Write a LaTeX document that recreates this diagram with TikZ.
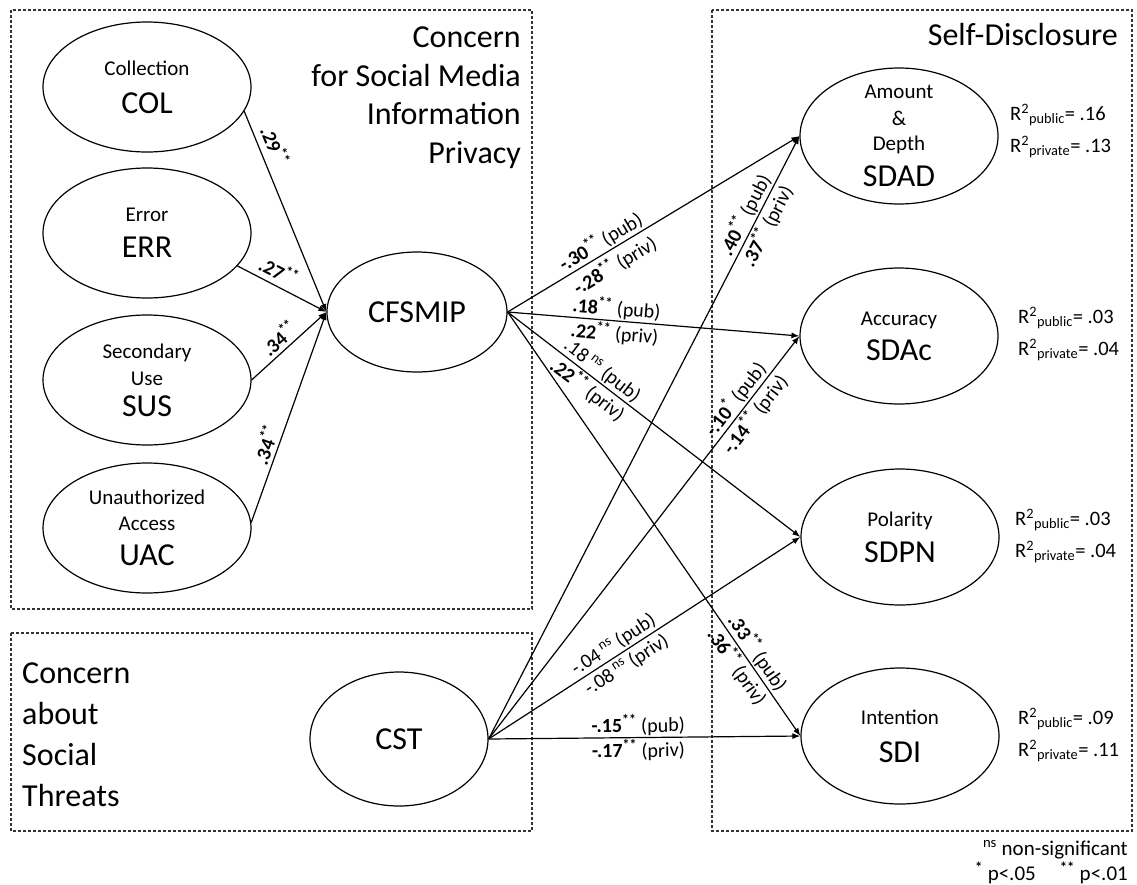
\documentclass[tikz,border=0pt]{standalone}
\usepackage{fontspec}
\setmainfont{Carlito}
\usetikzlibrary{shapes.geometric,arrows.meta}
\newcommand\fTitle{\fontsize{32}{38.5}\selectfont}
\newcommand\fTitleB{\fontsize{32}{40.7}\selectfont}
\newcommand\fBig{\fontsize{32}{36}\selectfont}
\newcommand\fSm{\fontsize{21}{25}\selectfont}
\newcommand\fLab{\fontsize{20}{24}\selectfont}
\newcommand\fR{\fontsize{20.5}{32}\selectfont}
\newcommand\sig[2]{\textbf{#1}\textsuperscript{\textbf{#2}}}
\newcommand\nsig[1]{#1\,\textsuperscript{ns}}
\tikzset{
  dashbox/.style={draw=black!80, line width=1.1pt, dash pattern=on 3pt off 2pt},
  ell/.style={draw, ellipse, line width=1.2pt, inner sep=0pt},
  lefte/.style={ell, minimum width=208pt, minimum height=130pt},
  righte/.style={ell, minimum width=198pt, minimum height=136pt},
  conn/.style={line width=1.2pt, -{Latex[length=8pt,width=6pt]}},
  lab/.style={font=\fLab, inner sep=1.5pt, sloped},
  intext/.style={align=center, font=\fSm, inner sep=0pt},
  rtxt/.style={align=left, font=\fR, inner sep=0pt, anchor=west},
  legend/.style={font=\fSm, inner sep=0pt, anchor=base east},
}
\begin{document}
\begin{tikzpicture}[x=1pt,y=-1pt]
\useasboundingbox (0,0) rectangle (1137,884);
% boxes
\draw[dashbox] (11,10) rectangle (532,609);
\draw[dashbox] (11,633) rectangle (532,831);
\draw[dashbox] (712,10) rectangle (1132,831);
% titles
\node[font=\fTitle, align=right, anchor=north east, inner sep=0pt] (T1) at (521,27)
  {Concern\\for Social Media\\Information\\Privacy};
\node[font=\fTitleB, align=left, anchor=north west, inner sep=0pt] (T2) at (22,663)
  {Concern\\about\\Social\\Threats};
\node[font=\fTitle, anchor=base east, inner sep=0pt] (T3) at (1118,45.5) {Self-Disclosure};
% left ellipses
\node[lefte, label={[intext]center:{Collection\\[13pt]{\fBig COL}}}] (COL) at (147,87) {};
\node[lefte, label={[intext]center:{Error\\[11pt]{\fBig ERR}}}] (ERR) at (147,233) {};
\node[lefte, label={[intext]center:{Secondary\\[2pt]Use\\[6pt]{\fBig SUS}}}] (SUS) at (147,380) {};
\node[lefte, label={[intext]center:{Unauthorized\\[1pt]Access\\[10pt]{\fBig UAC}}}] (UAC) at (147,528) {};
% middle ellipses
\node[ell, minimum width=180pt, minimum height=120pt, font=\fBig] (CFSMIP) at (417,312) {CFSMIP};
\node[ell, minimum width=178pt, minimum height=134pt, font=\fBig] (CST) at (399,739) {CST};
% right ellipses
\node[righte, label={[intext]center:{Amount\\[2pt]\&\\[0pt]Depth\\[11pt]{\fBig SDAD}}}] (SDAD) at (899,136) {};
\node[righte, label={[intext]center:{Accuracy\\[10pt]{\fBig SDAc}}}] (SDAc) at (899,336) {};
\node[righte, label={[intext]center:{Polarity\\[11pt]{\fBig SDPN}}}] (SDPN) at (900,537) {};
\node[righte, label={[intext]center:{Intention\\[13pt]{\fBig SDI}}}] (SDI) at (900,736) {};
% R squared
\node[rtxt] (R1) at (1010,131) {R\textsuperscript{2}\textsubscript{public}= .16\\R\textsuperscript{2}\textsubscript{private}= .13};
\node[rtxt] (R2) at (1018,334) {R\textsuperscript{2}\textsubscript{public}= .03\\R\textsuperscript{2}\textsubscript{private}= .04};
\node[rtxt] (R3) at (1015,536) {R\textsuperscript{2}\textsubscript{public}= .03\\R\textsuperscript{2}\textsubscript{private}= .04};
\node[rtxt] (R4) at (1018,735) {R\textsuperscript{2}\textsubscript{public}= .09\\R\textsuperscript{2}\textsubscript{private}= .11};
% legend
\node[legend] (L1) at (1128,855) {\textsuperscript{ns} non-significant};
\node[legend] (L2) at (1128,880) {\textsuperscript{\textbf{*}} p<.05\hspace{24pt}\textsuperscript{\textbf{**}} p<.01};
% left connectors
\draw[conn] (COL.-14) -- node[lab,above=5pt,pos=.2]{\sig{.29}{**}} (CFSMIP.west);
\draw[conn] (ERR.-20) -- node[lab,above=4pt,pos=.39]{\sig{.27}{**}} (CFSMIP.west);
\draw[conn] (SUS.0) -- node[lab,above=2pt,pos=.48]{\sig{.34}{**}} (CFSMIP.west);
\draw[conn] (UAC.3) -- node[lab,above=2pt,pos=.35]{\sig{.34}{**}} (CFSMIP.west);
% CFSMIP connectors
\draw[conn] (CFSMIP.east) -- node[lab,above,pos=.34]{\sig{-.30}{**} (pub)} node[lab,below=3pt,pos=.34]{\sig{-.28}{**} (priv)} (SDAD.west);
\draw[conn] (CFSMIP.east) -- node[lab,above,pos=.37]{\sig{.18}{**} (pub)} node[lab,below,pos=.37]{\sig{.22}{**} (priv)} (SDAc.west);
\draw[conn] (CFSMIP.east) -- node[lab,above,pos=.30]{\nsig{.18} (pub)} node[lab,below,pos=.30]{\sig{.22}{**} (priv)} (SDPN.west);
\draw[conn] (CFSMIP.east) -- node[lab,above,pos=.82]{\sig{.33}{**} (pub)} node[lab,below,pos=.82]{\sig{.36}{**} (priv)} (SDI.west);
% CST connectors
\draw[conn] (CST.east) -- node[lab,above,pos=.86]{\sig{.40}{**} (pub)} node[lab,below,pos=.86]{\sig{.37}{**} (priv)} (SDAD.west);
\draw[conn] (CST.east) -- node[lab,above,pos=.825]{\sig{-.10}{*} (pub)} node[lab,below,pos=.825]{\sig{-.14}{**} (priv)} (SDAc.west);
\draw[conn] (CST.east) -- node[lab,above,pos=.42]{\nsig{-.04} (pub)} node[lab,below=2pt,pos=.42]{\nsig{-.08} (priv)} (SDPN.west);
\draw[conn] (CST.east) -- node[lab,above,pos=.48]{\sig{-.15}{**} (pub)} node[lab,below,pos=.48]{\sig{-.17}{**} (priv)} (SDI.west);
\end{tikzpicture}
\end{document}
